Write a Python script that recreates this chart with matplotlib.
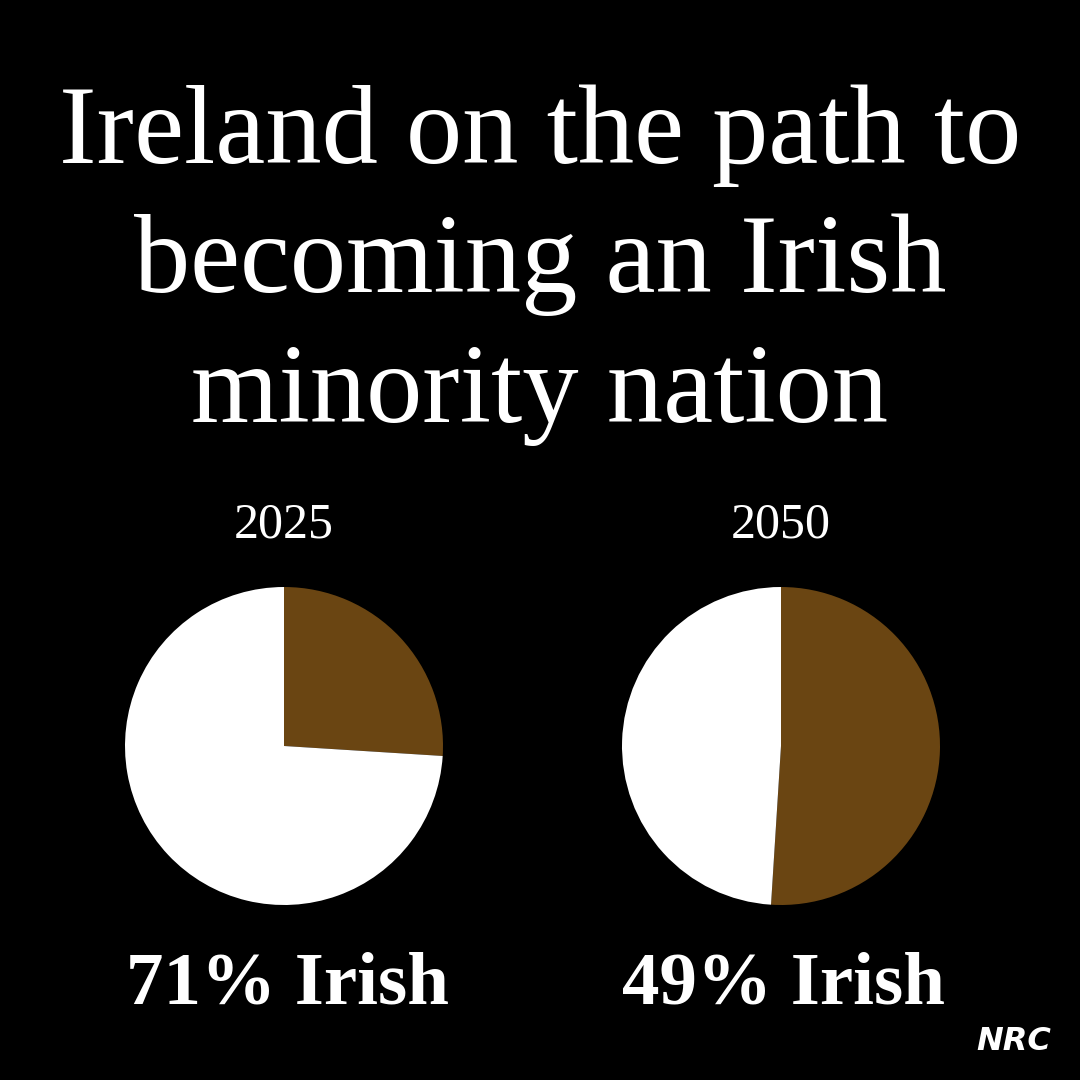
import matplotlib
matplotlib.use("Agg")
import matplotlib.pyplot as plt

# data
years = ["2025", "2050"]
other_share = [26, 51]      # brown slice
irish_share = [74, 49]      # white slice
labels = ["71% Irish", "49% Irish"]

title_lines = ["Ireland on the path to", "becoming an Irish", "minority nation"]
brown = "#6a4512"

fig = plt.figure(figsize=(10.8, 10.8), dpi=100)
fig.patch.set_facecolor("black")

# title, one line at a time on its baseline
for n, line in enumerate(title_lines):
    fig.text(0.5, 1 - (163 + 129.5 * n) / 1080, line, ha="center", va="baseline",
             color="white", family="Liberation Serif", fontsize=81)

centers = [284, 781]
r = 159
for k in range(2):
    cx = centers[k]
    ax = fig.add_axes([(cx - r) / 1080, 1 - (746 + r) / 1080, 2 * r / 1080, 2 * r / 1080])
    ax.set_facecolor("black")
    ax.pie([other_share[k], irish_share[k]], colors=[brown, "white"],
           startangle=90, counterclock=False,
           wedgeprops=dict(linewidth=0))
    ax.set_xlim(-1, 1)
    ax.set_ylim(-1, 1)
    ax.set_aspect("equal")
    ax.axis("off")

    fig.text(cx / 1080, 1 - 537 / 1080, years[k], ha="center", va="baseline",
             color="white", family="Liberation Serif", fontsize=36)
    fig.text((cx + 3) / 1080, 1 - 1003 / 1080, labels[k], ha="center", va="baseline",
             color="white", family="Liberation Serif", fontweight="bold", fontsize=54)

# logo
fig.text(1014 / 1080, 1 - 1042 / 1080, "NRC", ha="center", va="center",
         color="white", family="DejaVu Sans", fontweight="heavy",
         fontstyle="italic", fontsize=23)

fig.savefig("out.png", dpi=100, facecolor="black")
